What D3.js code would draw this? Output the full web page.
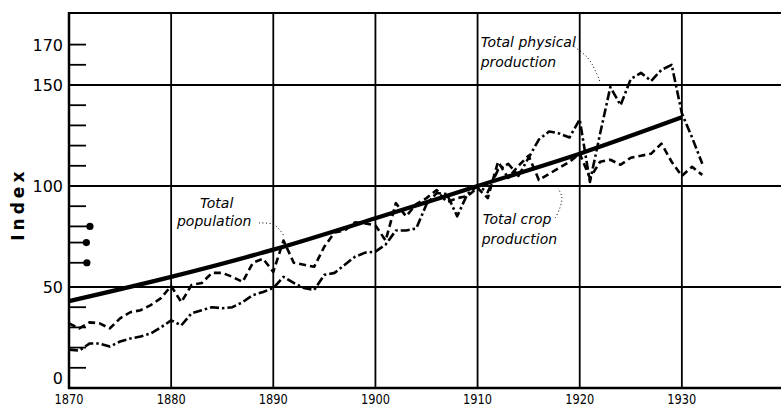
<!DOCTYPE html>
<html>
<head>
<meta charset="utf-8">
<script src="https://cdn.jsdelivr.net/npm/d3@7"></script>
<style>
  html, body { margin: 0; padding: 0; background: #fff; }
  svg { display: block; }
</style>
</head>
<body>
<svg id="chart" width="781" height="408"></svg>
<script>
// ---------------- data ----------------
const years = d3.range(1870, 1933);            // 1870 .. 1932
const decadeTicks = [1870, 1880, 1890, 1900, 1910, 1920, 1930];
const gridYears = [1880, 1890, 1900, 1910, 1920, 1930];
const yLabelTicks = [0, 50, 100, 150, 170];
const yMinorTicks = [10, 20, 30, 40, 90, 110, 120, 130, 140, 160, 170];
const yGridValues = [50, 100, 150];
const pinValues = [80, 72, 62];
const pinYears = [1872.05, 1871.7, 1871.75];

const popYears = [1870, 1880, 1890, 1900, 1910, 1920, 1930];
const population = [43, 55, 68.5, 84, 100, 116, 134];

const cropProduction = [
  32, 29.5, 32.5, 32, 29.5, 34.5, 37.5, 38.5, 41, 44.5,          // 1870-79
  50.5, 42.5, 51, 52, 57, 57, 55, 52.5, 62, 64,                  // 1880-89
  57.5, 73, 62, 61, 60, 70, 77, 78, 82, 81.5,                    // 1890-99
  80.5, 73, 91.5, 85, 91, 94, 98, 92, 94, 95,                    // 1900-09
  99, 94, 112, 104, 110, 115, 103, 106, 109, 112,                // 1910-19
  116, 104, 112, 113, 110.5, 114, 115, 116, 121, 112,            // 1920-29
  105, 109.5, 105.5                                              // 1930-32
];

const physicalProduction = [
  19, 18.5, 22, 22, 20.5, 23, 24.5, 25.5, 27, 30,                // 1870-79
  33.5, 31, 37, 38.5, 40, 39.5, 40, 42.5, 46, 47.5,              // 1880-89
  49.5, 55, 52, 49.5, 48.5, 56, 57, 61, 65, 67,                  // 1890-99
  67.5, 71, 78, 78, 79, 91, 96.5, 96, 85, 96,                    // 1900-09
  100, 97, 108, 111, 105, 114, 123, 127, 126, 124,               // 1910-19
  133, 102, 126, 149, 140, 153, 156, 152, 157.5, 160,            // 1920-29
  136, 124, 111                                                  // 1930-32
];

const annotations = [
  { lines: ["Total", "population"], starts: [[1882.82, 89.1], [1880.57, 80.2]],
    leader: [[1888.6, 81.7], [1889.9, 81.2], [1890.65, 78.2], [1891.05, 75.2]] },
  { lines: ["Total physical", "production"], starts: [[1910.3, 168.8], [1910.3, 158.9]],
    leader: [[1919.5, 168.8], [1920.5, 164.9], [1921.2, 160.4], [1922.0, 151.5]] },
  { lines: ["Total crop", "production"], starts: [[1910.5, 81.2], [1910.4, 71.3]],
    leader: [[1917.6, 84.2], [1918.06, 89.1], [1918.25, 94.6], [1917.86, 99]] }
];

// ---------------- scales ----------------
const svg = d3.select("#chart");
const x = d3.scaleLinear().domain([1870, 1940]).range([69, 784]);
const y = d3.scaleLinear().domain([0, 100]).range([388, 186]);
const yTopValue = 185.6;
const xRight = 781;

// ---------------- grid & frame ----------------
const g = svg.append("g");

g.selectAll("line.vgrid").data(gridYears).join("line")
  .attr("x1", d => x(d)).attr("x2", d => x(d))
  .attr("y1", y(yTopValue)).attr("y2", y(0))
  .attr("stroke", "#000").attr("stroke-width", 1.8);

g.selectAll("line.hgrid").data(yGridValues).join("line")
  .attr("x1", x(1870)).attr("x2", xRight)
  .attr("y1", d => y(d)).attr("y2", d => y(d))
  .attr("stroke", "#000").attr("stroke-width", 1.8);

// top border
g.append("line").attr("x1", x(1870)).attr("x2", xRight)
  .attr("y1", y(yTopValue)).attr("y2", y(yTopValue))
  .attr("stroke", "#000").attr("stroke-width", 2);
// bottom axis
g.append("line").attr("x1", x(1870) - 1).attr("x2", xRight)
  .attr("y1", y(0)).attr("y2", y(0))
  .attr("stroke", "#000").attr("stroke-width", 2.5);
// left axis
g.append("line").attr("x1", x(1870)).attr("x2", x(1870))
  .attr("y1", y(yTopValue) - 1).attr("y2", y(0) + 1)
  .attr("stroke", "#000").attr("stroke-width", 2.5);

// minor ticks (pointing inward)
g.selectAll("line.ytick").data(yMinorTicks).join("line")
  .attr("x1", x(1870)).attr("x2", x(1870) + 17)
  .attr("y1", d => y(d)).attr("y2", d => y(d))
  .attr("stroke", "#000").attr("stroke-width", 1.8);

// pins with dots
g.selectAll("line.pin").data(pinValues).join("line")
  .attr("x1", x(1870)).attr("x2", (d, i) => x(pinYears[i]))
  .attr("y1", d => y(d)).attr("y2", d => y(d))
  .attr("stroke", "#000").attr("stroke-width", 1.8);
g.selectAll("circle.pin").data(pinValues).join("circle")
  .attr("cx", (d, i) => x(pinYears[i])).attr("cy", d => y(d))
  .attr("r", 3.6).attr("fill", "#000");

// ---------------- axis labels ----------------
g.selectAll("text.ylab").data(yLabelTicks).join("text")
  .attr("x", 63)
  .attr("y", d => Math.min(y(d) + 6, y(0) - 4))
  .attr("text-anchor", "end")
  .attr("font-family", "DejaVu Sans, sans-serif")
  .attr("font-size", 16)
  .attr("fill", "#000")
  .text(d => d);

g.selectAll("text.xlab").data(decadeTicks).join("text")
  .attr("x", d => x(d))
  .attr("y", 404)
  .attr("text-anchor", "middle")
  .attr("font-family", "DejaVu Sans Condensed, DejaVu Sans, sans-serif")
  .attr("font-size", 14)
  .attr("textLength", 29)
  .attr("lengthAdjust", "spacingAndGlyphs")
  .attr("fill", "#000")
  .text(d => d);

g.append("text")
  .attr("transform", `translate(24, ${y(91)}) rotate(-90)`)
  .attr("text-anchor", "middle")
  .attr("font-family", "DejaVu Sans, sans-serif")
  .attr("font-weight", "bold")
  .attr("font-size", 17)
  .attr("letter-spacing", 4)
  .attr("fill", "#000")
  .text("Index");

// ---------------- series ----------------
const line = d3.line().x(d => x(d[0])).y(d => y(d[1]));

g.append("path")
  .datum(years.map((yr, i) => [yr, cropProduction[i]]))
  .attr("d", line)
  .attr("fill", "none").attr("stroke", "#000")
  .attr("stroke-width", 2.6)
  .attr("stroke-dasharray", "7,4")
  .attr("stroke-linejoin", "round");

g.append("path")
  .datum(years.map((yr, i) => [yr, physicalProduction[i]]))
  .attr("d", line)
  .attr("fill", "none").attr("stroke", "#000")
  .attr("stroke-width", 2.6)
  .attr("stroke-dasharray", "9,3,2.5,3")
  .attr("stroke-linejoin", "round");

g.append("path")
  .datum(popYears.map((yr, i) => [yr, population[i]]))
  .attr("d", d3.line().x(d => x(d[0])).y(d => y(d[1])).curve(d3.curveMonotoneX))
  .attr("fill", "none").attr("stroke", "#000")
  .attr("stroke-width", 4.2)
  .attr("stroke-linecap", "butt");

// ---------------- annotations ----------------
annotations.forEach(a => {
  a.lines.forEach((t, i) => {
    g.append("text")
      .attr("x", x(a.starts[i][0]))
      .attr("y", y(a.starts[i][1]))
      .attr("font-family", "DejaVu Sans, sans-serif")
      .attr("font-style", "italic")
      .attr("font-size", 14)
      .attr("fill", "#000")
      .text(t);
  });
  g.append("path")
    .datum(a.leader)
    .attr("d", d3.line().x(d => x(d[0])).y(d => y(d[1])).curve(d3.curveCatmullRom))
    .attr("fill", "none").attr("stroke", "#000")
    .attr("stroke-width", 1)
    .attr("stroke-dasharray", "1,2.5");
});
</script>
</body>
</html>
